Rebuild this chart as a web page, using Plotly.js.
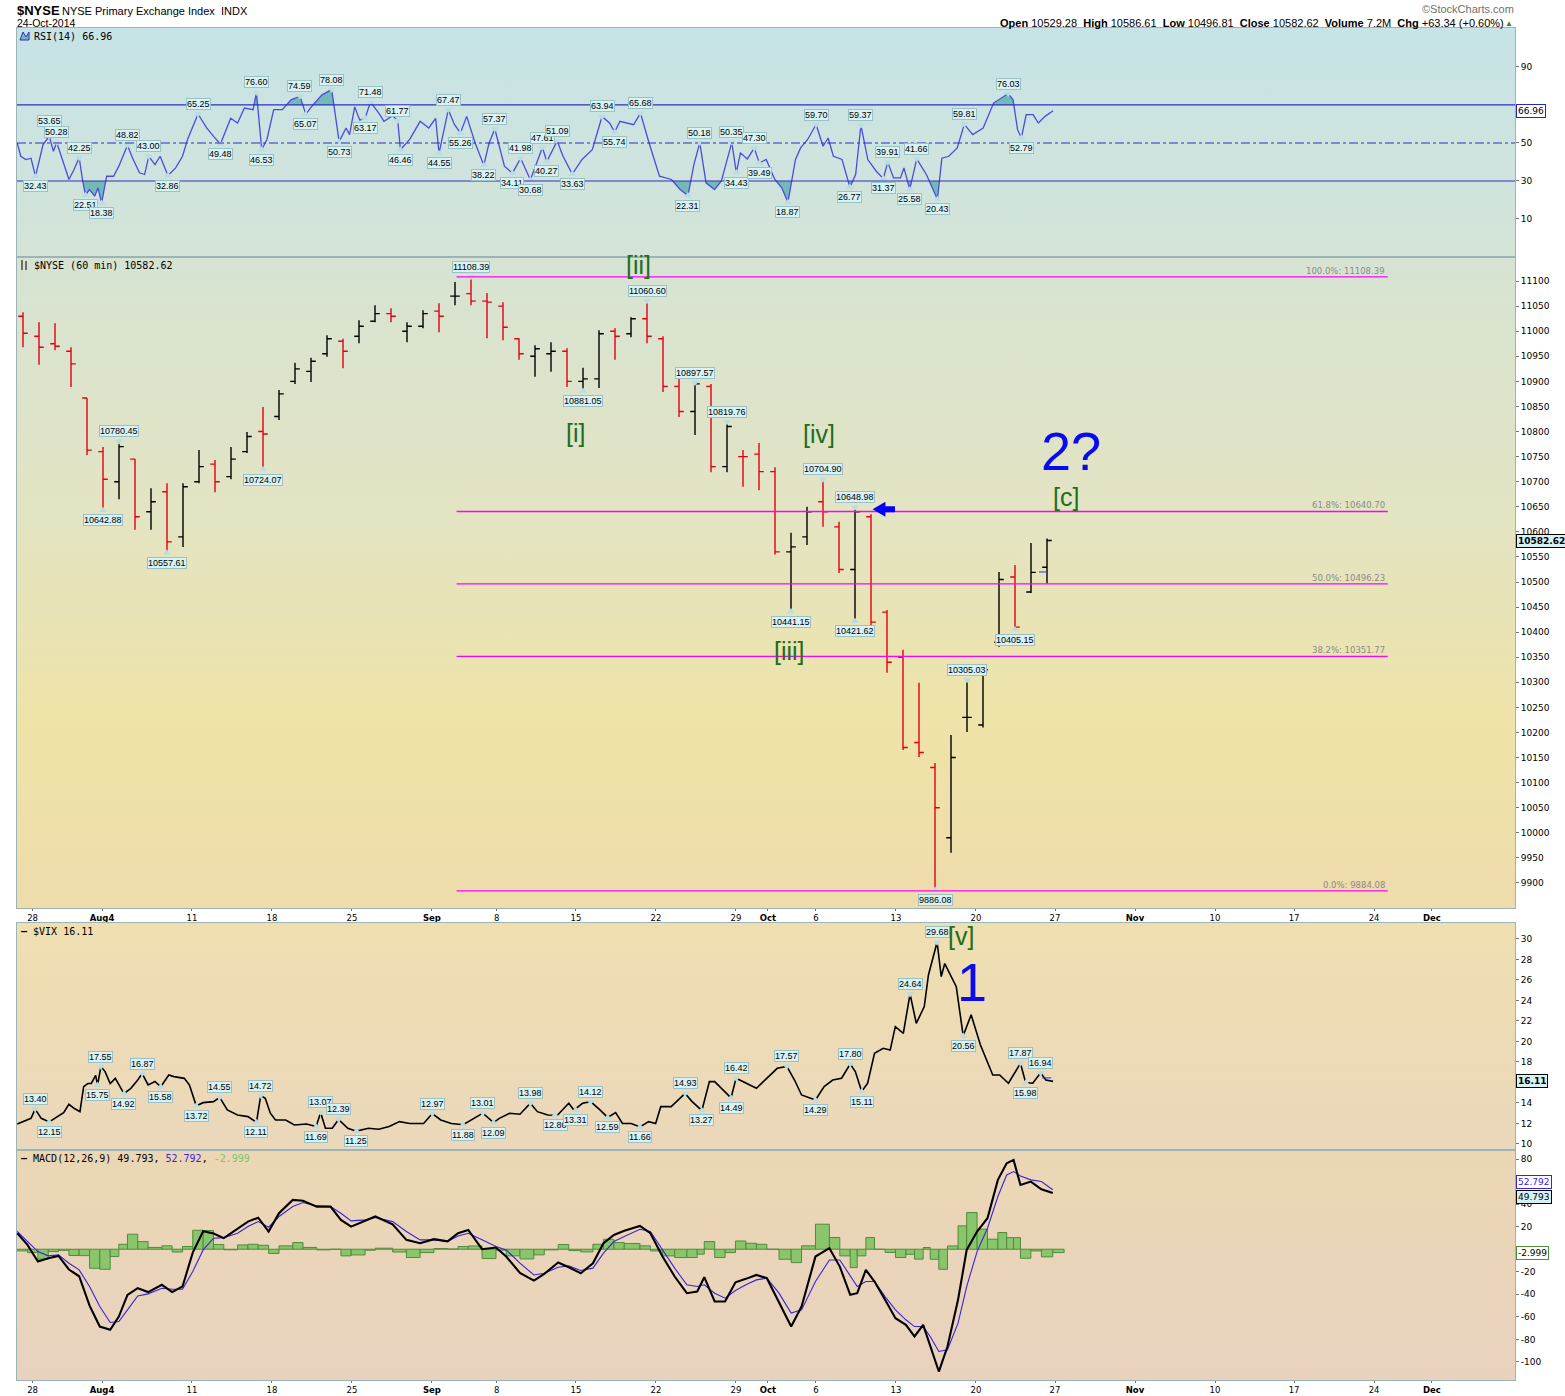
<!DOCTYPE html>
<html><head><meta charset="utf-8">
<script src="https://cdn.plot.ly/plotly-3.0.1.min.js"></script>
<style>
body{margin:0;background:#fff;}
#wrap{position:relative;width:1565px;height:1396px;overflow:hidden;}
.panelbg{position:absolute;left:17px;width:1498px;}
#chart{position:absolute;left:0;top:0;width:1565px;height:1396px;}
</style></head><body>
<div id="wrap">
<div class="panelbg" style="top:28px;height:229px;background:linear-gradient(#c6e3e7,#d4e4d7);"></div>
<div class="panelbg" style="top:257px;height:651px;background:linear-gradient(#d6e3d3 0%,#e3e4c2 40%,#efe3a8 72%,#eedcab 100%);"></div>
<div class="panelbg" style="top:923px;height:227px;background:linear-gradient(#efdfb0,#ebd7bb);"></div>
<div class="panelbg" style="top:1150px;height:230px;background:linear-gradient(#ecd7b4,#e8d2bf);"></div>
<div id="chart"></div>
</div>
<script>
// ---------------- DATA ----------------
// x positions are in trading-day units (0 = Mon 28-Jul-2014, 1 day = 1 unit)
const priceDates = ['Jul25','Jul28','Jul29','Jul30','Jul31','Aug1','Aug4','Aug5','Aug6','Aug7','Aug8','Aug11','Aug12','Aug13','Aug14','Aug15','Aug18','Aug19','Aug20','Aug21','Aug22','Aug25','Aug26','Aug27','Aug28','Aug29','Sep2','Sep3','Sep4','Sep5','Sep8','Sep9','Sep10','Sep11','Sep12','Sep15','Sep16','Sep17','Sep18','Sep19','Sep22','Sep23','Sep24','Sep25','Sep26','Sep29','Sep30','Oct1','Oct2','Oct3','Oct6','Oct7','Oct8','Oct9','Oct10','Oct13','Oct14','Oct15','Oct16','Oct17','Oct20','Oct21','Oct22','Oct23','Oct24'];
const priceOpen  = [11030,10990,10975,10960,10867,10760,10700,10745,10640,10680,10590,10700,10735,10710,10760,10800,10830,10900,10920,10955,10980,10990,11020,11035,11000,11010,11040,11070,11075,11060,11050,10985,10950,10955,10960,10900,10905,11000,10995,11025,10985,10890,10840,10890,10730,10750,10755,10720,10560,10590,10660,10610,10525,10630,10440,10350,10180,10130,9990,10230,10215,10380,10510,10480,10529.28];
const priceHigh  = [11038,11018,11016,10968,10867,10769,10780.45,10745,10687,10697,10697,10763,10743,10769,10799,10849,10883,10937,10947,10992,10985,11022,11052,11046,11018,11042,11056,11098,11108.39,11076,11058,10986,10972,10978,10966,10927,11002,11006,11028,11060.60,10990,10909,10897.57,10895,10819.76,10763,10777,10729,10598,10650,10704.90,10620,10648.98,10635,10444,10365,10299,10139,10195,10305.03,10331,10520,10534,10578,10586.61];
const priceLow   = [10968,10933,10962,10889,10753,10642.88,10665,10604,10604,10557.61,10570,10697,10679,10705,10757,10724.07,10823,10895,10899,10949,10926,10976,11018,11018,10978,11006,10998,11052,11052,10986,10982,10943,10909,10919,10889,10881.05,10887,10943,10988,10976,10879,10829,10793,10719,10719,10690,10683,10555,10441.15,10574,10610,10518,10421.62,10410,10319,10165,10151,9886.08,9960,10201,10210,10371,10405.15,10478,10496.81];
const priceClose = [10996,10968,10970,10935,10763,10705,10770,10630,10660,10580,10690,10730,10700,10745,10790,10795,10875,10925,10940,10985,10960,11010,11035,11030,11010,11035,11030,11070,11060,11058,11008,10955,10965,10960,10900,10905,10995,10990,11025,10990,10890,10840,10895,10730,10810,10750,10720,10560,10570,10640,10640,10525,10640,10420,10340,10170,10160,10050,10150,10230,10325,10505,10410,10519.28,10582.62];
const priceVolume = '7.2M';

const priceLblT = [27.5,38.5,34.5,41.5,43.5,5.5,4.5,8.5,14.5,49.5,51.5,47.5,51.5,58.5,61.5,56.5];
const priceLblV = [11108.39,11060.60,10881.05,10897.57,10819.76,10780.45,10642.88,10557.61,10724.07,10704.90,10648.98,10441.15,10421.62,10305.03,10405.15,9886.08];
const priceLblS = [1,1,-1,1,1,1,-1,-1,-1,1,1,-1,-1,1,-1,-1];

const fibPct = ['100.0%','61.8%','50.0%','38.2%','0.0%'];
const fibVal = [11108.39,10640.70,10496.23,10351.77,9884.08];

const rsiT = [-0.86,-0.64,-0.32,0,0.28,0.54,0.75,1.14,1.4,1.61,1.94,2.37,2.69,3.01,3.23,3.4,3.66,3.98,4.19,4.41,4.73,5.16,5.49,6.03,6.35,6.78,7.1,7.36,7.75,8.07,8.56,9.04,9.47,9.79,10.44,10.98,11.41,11.84,12.48,12.91,13.34,13.88,14.09,14.42,14.74,15.17,15.71,16.25,16.81,17.18,17.54,18.19,18.79,19.26,19.69,19.91,20.23,20.55,20.88,21.22,21.74,22.06,22.6,22.92,23.09,23.68,24.32,24.86,25.29,25.5,26.08,26.47,26.84,27.23,27.76,28.3,28.63,28.99,29.59,30.09,30.6,31.21,31.53,31.96,32.24,32.89,33.25,33.83,34.44,35.08,35.69,36.16,36.48,36.81,37.66,38.09,38.63,39.28,40.03,40.57,41.06,41.43,41.8,42.19,42.72,43.15,43.8,44.08,44.34,44.77,45.2,45.52,45.95,46.49,46.92,47.31,47.78,48.1,48.53,49.07,49.5,49.82,50.15,50.69,51.18,51.54,51.87,52.3,52.84,53.27,53.55,53.91,54.34,54.56,54.92,55.36,55.96,56.65,56.93,57.36,57.89,58.33,58.86,59.51,60.16,61.08,61.38,61.66,61.9,62.2,62.63,62.96,63.38,63.88];
const rsiV = [50,43,41.3,42,32.43,41,49,53.65,45.6,50.28,42,30.8,36,42.25,30,22.51,25.5,22,26.4,18.38,32.5,32.5,37.8,48.82,42,34.3,33.4,43.0,38.6,43,32.86,36.9,43,52,65.25,57.9,53.5,49.48,63,60.5,68.4,67.5,76.6,46.53,51.7,67.5,67.5,72.7,74.59,65.07,69.2,75.3,78.08,50.73,57.9,54.4,69,62,63.17,71.48,65.7,61.4,64.3,61.77,46.46,52,61.4,57.9,63,44.55,67.47,59.6,55.26,64,50,38.22,50,57.37,37.8,34.11,41.98,30.68,37.8,47.61,40.27,51.09,43,33.63,41.3,46.5,63.94,60.5,55.74,61.4,59.6,65.68,50,32.5,30.8,25.5,22.31,38.6,50.18,29,25.5,30,50.35,34.43,44.8,41.6,47.3,39.49,41.3,30.8,26.4,18.87,41.3,47.4,51.7,59.7,48.3,52.6,43,41.3,26.77,33.4,59.37,41.3,35,31.37,39.91,31.6,31.6,36.9,25.58,41.66,33.4,20.43,42,43,47.4,59.81,54.4,57.9,71,76.03,72.7,57,52.79,64.9,64.9,60.5,64,66.96];
const rsiLblT = [0.28,1.14,1.61,3.01,3.4,4.41,6.03,7.36,8.56,10.44,11.84,14.09,14.42,16.81,17.18,18.79,19.26,20.88,21.22,22.92,23.09,25.5,26.08,26.84,28.3,28.99,30.09,30.6,31.21,31.96,32.24,32.89,33.83,35.69,36.48,38.09,41.06,41.8,43.8,44.08,45.2,45.52,47.31,49.07,51.18,51.87,53.27,53.55,54.92,55.36,56.65,58.33,61.08,61.9];
const rsiLblV = [32.43,53.65,50.28,42.25,22.51,18.38,48.82,43.00,32.86,65.25,49.48,76.60,46.53,74.59,65.07,78.08,50.73,63.17,71.48,61.77,46.46,44.55,67.47,55.26,38.22,57.37,34.11,41.98,30.68,47.61,40.27,51.09,33.63,63.94,55.74,65.68,22.31,50.18,50.35,34.43,47.30,39.49,18.87,59.70,26.77,59.37,31.37,39.91,25.58,41.66,20.43,59.81,76.03,52.79];
const rsiLblS = [-1,2,1,1,-1,-1,1,1,-1,1,-1,1,-1,1,-1,1,-1,-1,1,1,-1,-1,1,-1,-1,1,-1,1,-1,1,-1,1,-1,1,-1,1,-1,1,1,-1,1,-1,-1,1,-1,1,-1,1,-1,1,-1,1,1,-1];

const vixT = [-0.86,-0.32,0,0.26,0.64,1.14,1.61,2.04,2.37,2.69,3.06,3.29,3.55,3.77,4.04,4.16,4.37,4.63,4.95,5.27,5.81,6.24,6.67,6.95,7.32,7.75,8.11,8.61,8.93,9.58,9.9,10.33,10.76,11.41,11.79,12.27,12.91,13.56,14.09,14.36,14.64,14.96,15.28,15.92,16.46,17.22,17.82,18.1,18.4,18.83,19.22,19.8,20.34,21.09,21.74,22.38,23.03,23.68,24.54,25.08,25.61,26.27,27.01,27.55,28.24,28.91,29.27,29.91,30.56,31.21,31.65,32.3,32.9,33.61,33.93,34.47,34.98,35.56,36.04,36.54,36.97,37.51,38.06,38.6,39.04,39.36,40.01,40.88,41.32,41.93,42.4,42.73,43.16,43.75,44.07,44.68,45.34,45.77,46.21,46.64,47.24,47.72,48.16,49.03,49.57,50.11,50.66,51.2,51.52,51.92,52.29,52.72,53.26,53.7,54.02,54.52,54.94,55.33,55.83,56.09,56.63,56.89,57.11,57.5,57.83,58.26,58.76,59.34,60.11,60.54,61.09,61.84,62.17,62.61,63.1,63.43,63.88];
const vixV = [11.95,12.34,12.5,13.40,12.5,12.15,12.67,13.06,13.87,13.48,13.15,15.59,15.9,15.9,16.7,15.75,17.55,17.06,15.9,16.4,14.92,15.43,16.24,16.87,15.76,16.1,15.58,16.73,16.57,16.4,15.76,13.72,14.03,14.13,14.55,13.32,12.83,12.67,12.11,14.72,14.46,13,12.34,12.34,11.85,11.95,11.69,13.07,11.53,11.53,12.39,11.53,11.25,11.53,11.43,11.7,12.18,12,12,12.97,12.34,12,11.88,12.34,13.01,12.09,12.5,13,12.9,13.98,13.15,12.83,12.80,13.97,13.31,13.97,14.12,13.32,12.59,13.06,12,12,11.66,12.18,12,13.64,13.64,14.93,14.13,13.27,16.08,16.08,15.43,14.49,16.42,15.92,15.43,16.08,16.73,17.38,17.57,16.24,14.78,14.29,15.59,16.24,16.41,17.80,17.06,15.11,15.92,18.85,19.33,19.17,21.45,20.8,24.64,21.77,23.4,26.49,29.68,26.33,27.6,26.33,25.35,20.56,22.6,19.66,16.73,16.73,15.92,17.87,15.98,15.92,16.94,16.24,16.11];
const vixLblT = [0.26,1.14,4.16,4.37,5.81,6.95,8.11,10.33,11.79,14.09,14.36,17.82,18.1,19.22,20.34,25.08,27.01,28.24,28.91,31.21,32.75,34.05,34.98,36.04,38.06,40.88,41.93,43.75,44.07,47.24,49.03,51.2,51.92,54.94,56.63,58.26,61.84,62.17,63.1];
const vixLblV = [13.40,12.15,15.75,17.55,14.92,16.87,15.58,13.72,14.55,12.11,14.72,11.69,13.07,12.39,11.25,12.97,11.88,13.01,12.09,13.98,12.80,13.31,14.12,12.59,11.66,14.93,13.27,14.49,16.42,17.57,14.29,17.80,15.11,24.64,29.68,20.56,17.87,15.98,16.94];
const vixLblS = [1,-1,-1,1,-1,1,-1,-1,1,-1,1,-1,1,1,-1,1,-1,1,-1,1,-1,-1,1,-1,-1,1,-1,-1,1,1,-1,1,-1,1,1,-1,1,-1,1];

const macdT = [-0.86,-0.22,0.43,1.08,1.72,2.37,3.01,3.66,4.3,4.95,5.49,6.03,6.67,7.32,8.18,8.82,9.47,10.11,10.76,11.41,12.05,12.91,13.56,14.2,14.85,15.5,16.36,17,17.86,18.72,19.37,20.01,20.88,21.52,22.6,23.46,24.32,25.18,26.04,26.69,27.33,28.19,29.06,29.7,30.56,31.43,32.08,32.95,33.61,34.36,35.12,35.78,36.43,37.08,38.06,38.71,39.47,40.23,40.99,41.64,42.08,42.73,43.38,44.03,44.68,45.34,45.99,46.75,47.51,48.16,49.03,49.9,50.55,51.2,51.64,52.18,52.72,53.38,54.03,54.68,55.22,55.76,56.2,56.74,57.28,57.94,58.48,59.13,59.78,60.43,60.98,61.41,61.84,62.49,63.15,63.86];
const macdV = [14.2,3.8,-10.9,-8,-6,-18,-24,-50,-68.6,-71.5,-59.7,-40.5,-34.6,-38,-31.6,-38,-33.1,-3,16,14,9.8,18,24.5,28,15.7,32,43.7,43,37.8,37.8,26,20,25.1,29,22,8.3,5.3,8.9,7,14.2,17.1,0,1.5,-6.5,-21,-27.8,-21.9,-11.8,-16,-21.3,-12.4,5.3,12.7,16.3,20.7,14.2,-6.5,-24.2,-39,-37.5,-24.8,-46.4,-46.4,-29.3,-26.3,-22.8,-25.7,-47.9,-68.6,-50.8,-6.5,0.9,-15.4,-40.5,-39,-18.3,-28.7,-44.9,-61.2,-67.1,-77.4,-67.1,-86.3,-108.5,-86.3,-44.9,-0.6,15.7,27.5,61.5,76.2,79.2,57,60,53.2,49.793];
const signalV = [15.7,6.8,-2.1,-5.9,-5,-12.4,-18.3,-33.1,-50.8,-65,-64.1,-53.8,-41.4,-39.6,-34.6,-35.5,-35.5,-19.8,-0.6,9.8,10.3,14.2,20.1,24.5,19.5,29,37.8,41.4,38.4,37.8,31.9,25.1,26,28.1,24.5,15.7,8.3,8.3,6.8,11.8,14.2,8.3,2.4,-0.6,-12.4,-22.8,-21.3,-16,-14.8,-18.9,-16.8,-3.5,6.8,11.2,17.7,15.7,-0.6,-16.8,-31.6,-33.1,-31.6,-39,-43.4,-36.6,-31.6,-27.2,-25.7,-39,-56.7,-53.8,-28.7,-9.5,-9.5,-24.2,-33.1,-28.7,-28.7,-42,-53.8,-62.6,-68.6,-68.6,-77.4,-90.7,-89.2,-65.6,-33.1,-2.1,18.6,46.7,65.9,68.9,65,61.5,60,52.792];

const xTickPos  = [0.1,4.44,10.06,15.06,20.06,25.06,29.1,34.06,39.06,44.06,46.06,49.06,54.06,59.06,64,69,74,78.94,83.94,87.56];
const xTickText = ['28','<b>Aug4</b>','11','18','25','<b>Sep</b>','8','15','22','29','<b>Oct</b>','6','13','20','27','<b>Nov</b>','10','17','24','<b>Dec</b>'];

const waveLbl = [
  {t:'[ii]', x:37.94, y:11132, ax:'y'}, {t:'[i]', x:34.06, y:10797, ax:'y'},
  {t:'[iv]', x:49.25, y:10795, ax:'y'}, {t:'[iii]', x:47.38, y:10363, ax:'y'},
  {t:'[c]', x:64.69, y:10669, ax:'y'}, {t:'[v]', x:58.1, y:30.3, ax:'y3'}
];
const bigLbl = [{t:'2?', x:65.0, y:10762, ax:'y'}, {t:'1', x:58.81, y:25.8, ax:'y3'}];

// ---------------- GEOMETRY ----------------
const T0 = 28, B0 = 1380, PH = B0 - T0;
const yd = (top, bot) => [(B0 - bot) / PH, (B0 - top) / PH];
const py = ypx => (B0 - ypx) / PH;
const px = xpx => (xpx - 17) / 1498;
const XR = [-0.875, 92.75];
const LBLFONT = 'Liberation Sans, Arial, sans-serif';
const AXFONT = {family: 'DejaVu Sans, Verdana, sans-serif', size: 9, color: '#000'};
const MONO = 'DejaVu Sans Mono, monospace';
const FRAME = '#9cb4b6';
const NOTCH = '#b9dde0';

function clip(xs, ys, thr, upper) {
  const X = [], Y = [];
  for (let i = 0; i < xs.length; i++) {
    if (i > 0) {
      const a = ys[i-1] - thr, b = ys[i] - thr;
      if (a * b < 0) { const t = a / (a - b); X.push(xs[i-1] + t * (xs[i] - xs[i-1])); Y.push(thr); }
    }
    X.push(xs[i]); Y.push(upper ? Math.max(ys[i], thr) : Math.min(ys[i], thr));
  }
  return {X, Y};
}

const traces = [];
const RSIFILL = '#72b9b7';
[[70, true], [30, false]].forEach(([thr, up]) => {
  const c = clip(rsiT, rsiV, thr, up);
  traces.push({x: c.X, y: c.X.map(() => thr), xaxis: 'x2', yaxis: 'y2', mode: 'lines', line: {width: 0}, hoverinfo: 'skip', showlegend: false});
  traces.push({x: c.X, y: c.Y, xaxis: 'x2', yaxis: 'y2', mode: 'lines', line: {width: 0}, fill: 'tonexty', fillcolor: RSIFILL, hoverinfo: 'skip', showlegend: false});
});
traces.push({x: rsiT, y: rsiV, xaxis: 'x2', yaxis: 'y2', mode: 'lines', line: {color: '#4b4be0', width: 1.3}, hoverinfo: 'skip', showlegend: false});

traces.push({type: 'ohlc', x: priceDates.map((d, i) => i - 1 + 0.5), open: priceOpen, high: priceHigh, low: priceLow, close: priceClose,
  xaxis: 'x', yaxis: 'y', tickwidth: 0.3, increasing: {line: {color: '#000000', width: 1.4}}, decreasing: {line: {color: '#e3000f', width: 1.4}},
  hoverinfo: 'skip', showlegend: false});

traces.push({x: vixT, y: vixV, xaxis: 'x3', yaxis: 'y3', mode: 'lines', line: {color: '#000', width: 1.6}, hoverinfo: 'skip', showlegend: false});

const histV = macdV.map((m, i) => m - signalV[i]);
const histW = macdT.map((t, i) => (i < macdT.length - 1 ? macdT[i+1] - t : t - macdT[i-1]));
traces.push({type: 'bar', x: macdT.map((t, i) => t + histW[i] / 2), y: histV, width: histW, xaxis: 'x4', yaxis: 'y4',
  marker: {color: '#8ac56b', line: {color: '#4f8c3c', width: 1}}, hoverinfo: 'skip', showlegend: false});
traces.push({x: macdT, y: signalV, xaxis: 'x4', yaxis: 'y4', mode: 'lines', line: {color: '#3a22dc', width: 1.1}, hoverinfo: 'skip', showlegend: false});
traces.push({x: macdT, y: macdV, xaxis: 'x4', yaxis: 'y4', mode: 'lines', line: {color: '#000', width: 2.1}, hoverinfo: 'skip', showlegend: false});

// label notches (small triangles pointing at the labelled value)
function notches(ts, vs, ss, xa, ya) {
  traces.push({x: ts, y: vs, xaxis: xa, yaxis: ya, mode: 'markers', hoverinfo: 'skip', showlegend: false,
    marker: {size: 7, color: NOTCH, line: {width: 0}, symbol: ss.map(s => s > 0 ? 'triangle-down' : 'triangle-up')}});
}

// ---------------- AXES ----------------
function xax(anchor, labels) {
  return {anchor: anchor, range: XR, showgrid: false, zeroline: false, showline: true, mirror: true, linecolor: FRAME, linewidth: 1,
    tickmode: 'array', tickvals: xTickPos, ticktext: labels ? xTickText : xTickPos.map(() => ''), ticks: 'outside', ticklen: labels ? 2 : 0,
    tickcolor: '#777', tickfont: labels ? {family: AXFONT.family, size: 8.5, color: '#000'} : AXFONT, fixedrange: true};
}
function yax(anchor, dom, range, vals, hide) {
  return {anchor: anchor, domain: dom, range: range, side: 'right', showgrid: false, zeroline: false, showline: true, mirror: true,
    linecolor: FRAME, linewidth: 1, tickmode: 'array', tickvals: vals, ticktext: vals.map(v => (hide || []).includes(v) ? '' : String(v)),
    ticks: 'outside', ticklen: 3, tickcolor: '#777', tickfont: AXFONT, fixedrange: true};
}
const range = (a, b, s) => { const r = []; for (let v = a; v <= b + 1e-9; v += s) r.push(Math.round(v * 100) / 100); return r; };

const layout = {
  width: 1565, height: 1396, margin: {l: 17, r: 50, t: 28, b: 16},
  paper_bgcolor: 'rgba(0,0,0,0)', plot_bgcolor: 'rgba(0,0,0,0)', showlegend: false, bargap: 0,
  xaxis: Object.assign(xax('y', true), {rangeslider: {visible: false}}),
  xaxis2: xax('y2', false), xaxis3: xax('y3', false), xaxis4: xax('y4', true),
  yaxis2: yax('x2', yd(28, 257), [-10, 110.5], [10, 30, 50, 70, 90], [70]),
  yaxis:  yax('x', yd(257, 908), [9850, 11148], range(9900, 11100, 50)),
  yaxis3: yax('x3', yd(923, 1150), [9.41, 31.56], range(10, 30, 2), [16]),
  yaxis4: yax('x4', yd(1150, 1380), [-116, 88], range(-100, 80, 20), [0, 60]),
  shapes: [], annotations: []
};

// RSI reference lines
[[70, 'solid'], [30, 'solid'], [50, 'dashdot']].forEach(([v, d]) => layout.shapes.push({type: 'line', xref: 'x2 domain', x0: 0, x1: 1, yref: 'y2', y0: v, y1: v, line: {color: '#2f2fc0', width: 1.2, dash: d}}));
// Fibonacci levels
fibVal.forEach((v, i) => {
  layout.shapes.push({type: 'line', xref: 'x', x0: 26.6, x1: 84.8, yref: 'y', y0: v, y1: v, line: {color: '#ff00ff', width: 1.4}});
  layout.annotations.push({xref: 'x', x: 84.75, yref: 'y', y: v, xanchor: 'right', yanchor: 'bottom', yshift: -1, showarrow: false,
    text: fibPct[i] + ': ' + v.toFixed(2), font: {family: 'DejaVu Sans, Verdana, sans-serif', size: 8.5, color: '#8a8a8a'}});
});
// short blue dashed markers at the last bar
layout.shapes.push({type: 'line', xref: 'x', x0: 63.0, x1: 64.0, yref: 'y', y0: 10520, y1: 10520, line: {color: '#2030ff', width: 1, dash: 'dash'}});
layout.shapes.push({type: 'line', xref: 'x3', x0: 63.2, x1: 64.0, yref: 'y3', y0: 16.44, y1: 16.44, line: {color: '#2030ff', width: 1, dash: 'dash'}});

function boxLabel(x, y, v, side, xa, ya, dec) {
  return {xref: xa, yref: ya, x: x, y: y, text: v.toFixed(dec), showarrow: false, xanchor: 'center',
    yanchor: side > 0 ? 'bottom' : 'top', yshift: side > 1 ? 9 : (side > 0 ? 4 : -4),
    font: {family: LBLFONT, size: 9, color: '#000'}, bgcolor: '#d9f2f4', bordercolor: '#9cc1c5', borderwidth: 1, borderpad: 0};
}
notches(rsiLblT, rsiLblV, rsiLblS, 'x2', 'y2');
notches(priceLblT, priceLblV, priceLblS, 'x', 'y');
notches(vixLblT, vixLblV, vixLblS, 'x3', 'y3');
rsiLblT.forEach((t, i) => layout.annotations.push(boxLabel(t, rsiLblV[i], rsiLblV[i], rsiLblS[i], 'x2', 'y2', 2)));
priceLblT.forEach((t, i) => layout.annotations.push(boxLabel(t, priceLblV[i], priceLblV[i], priceLblS[i], 'x', 'y', 2)));
vixLblT.forEach((t, i) => layout.annotations.push(boxLabel(t, vixLblV[i], vixLblV[i], vixLblS[i], 'x3', 'y3', 2)));

// Elliott wave labels
waveLbl.forEach(w => layout.annotations.push({xref: 'x', yref: w.ax, x: w.x, y: w.y, text: w.t, showarrow: false,
  font: {family: LBLFONT, size: 25, color: '#1d6e1d'}}));
bigLbl.forEach(w => layout.annotations.push({xref: 'x', yref: w.ax, x: w.x, y: w.y, text: w.t, showarrow: false,
  font: {family: LBLFONT, size: 54, color: '#0a0af0'}}));
// blue arrow pointing to 61.8% retracement test
layout.shapes.push({type: 'path', xref: 'x', yref: 'y',
  path: 'M 52.6 10645 L 53.4 10660 L 53.4 10651 L 54.0 10651 L 54.0 10639 L 53.4 10639 L 53.4 10630 Z',
  fillcolor: '#0000ff', line: {width: 0}});

// current-value tags on the right axis
const n = priceClose.length;
const lastClose = priceClose[n - 1], prevClose = priceClose[n - 2];
const chg = lastClose - prevClose, chgPct = chg / prevClose * 100;
const lastRsi = rsiV[rsiV.length - 1], lastVix = vixV[vixV.length - 1];
const lastMacd = macdV[macdV.length - 1], lastSig = signalV[signalV.length - 1], lastHist = lastMacd - lastSig;
function tag(ya, y, txt, border, bg, color, yshift) {
  return {xref: 'paper', x: 1, xanchor: 'left', xshift: 1, yref: ya, y: y, yshift: yshift || 0, text: txt, showarrow: false,
    font: {family: 'DejaVu Sans, Verdana, sans-serif', size: 9, color: color}, bgcolor: bg, bordercolor: border, borderwidth: 1, borderpad: 1};
}
layout.annotations.push(tag('y2', lastRsi, lastRsi.toFixed(2), '#2525c8', '#ffffff', '#000'));
layout.annotations.push(tag('y', lastClose, '<b>' + lastClose.toFixed(2) + '</b>', '#000', '#d5f1f4', '#000'));
layout.annotations.push(tag('y3', lastVix, '<b>' + lastVix.toFixed(2) + '</b>', '#000', '#d5f1f4', '#000'));
layout.annotations.push(tag('y4', lastSig, lastSig.toFixed(3), '#3a22dc', '#ffffff', '#3a22dc', 8));
layout.annotations.push(tag('y4', lastMacd, lastMacd.toFixed(3), '#000', '#d5f1f4', '#000', -4));
layout.annotations.push(tag('y4', lastHist, lastHist.toFixed(3), '#4f8c3c', '#ffffff', '#000'));

// header texts
const hdr = (x, y, txt, size, anchor, color, fam) => ({xref: 'paper', yref: 'paper', x: px(x), y: py(y), xanchor: anchor, yanchor: 'middle',
  text: txt, showarrow: false, font: {family: fam || LBLFONT, size: size, color: color || '#000'}});
layout.annotations.push(hdr(15, 10, '<b>$NYSE</b>', 13, 'left'));
layout.annotations.push(hdr(60, 11, 'NYSE Primary Exchange Index  INDX', 11, 'left'));
layout.annotations.push(hdr(15, 23, '24-Oct-2014', 10.5, 'left'));
layout.annotations.push(hdr(1516, 9, '©StockCharts.com', 11, 'right', '#707070'));
layout.annotations.push(hdr(1506, 23,
  '<b>Open</b> ' + priceOpen[n-1].toFixed(2) + '  <b>High</b> ' + priceHigh[n-1].toFixed(2) + '  <b>Low</b> ' + priceLow[n-1].toFixed(2) +
  '  <b>Close</b> ' + lastClose.toFixed(2) + '  <b>Volume</b> ' + priceVolume + '  <b>Chg</b> ' + (chg >= 0 ? '+' : '') + chg.toFixed(2) +
  ' (' + (chgPct >= 0 ? '+' : '') + chgPct.toFixed(2) + '%)', 11, 'right'));
layout.annotations.push(hdr(1515, 23, '▲', 8, 'right', '#2e8b2e'));

// panel legends
layout.annotations.push(hdr(32, 36, 'RSI(14) ' + lastRsi.toFixed(2), 10, 'left', '#000', MONO));
layout.annotations.push(hdr(32, 265, '$NYSE (60 min) ' + lastClose.toFixed(2), 10, 'left', '#000', MONO));
layout.annotations.push(hdr(19, 931, '<b>—</b> $VIX ' + lastVix.toFixed(2), 10, 'left', '#000', MONO));
layout.annotations.push(hdr(19, 1158, '<b>—</b> MACD(12,26,9) ' + lastMacd.toFixed(3) + ', <span style="color:#3a22dc">' + lastSig.toFixed(3) +
  '</span>, <span style="color:#7cc56e">' + lastHist.toFixed(3) + '</span>', 10, 'left', '#000', MONO));
// small panel icons
layout.shapes.push({type: 'path', xref: 'paper', yref: 'paper', path: `M ${px(20)} ${py(40)} L ${px(23)} ${py(32)} L ${px(26)} ${py(37)} L ${px(29)} ${py(32)} L ${px(29)} ${py(40)} Z`, fillcolor: RSIFILL, line: {color: '#2f2fc0', width: 1}});
layout.shapes.push({type: 'line', xref: 'paper', yref: 'paper', x0: px(22), x1: px(22), y0: py(260), y1: py(270), line: {color: '#000', width: 1}});
layout.shapes.push({type: 'line', xref: 'paper', yref: 'paper', x0: px(26), x1: px(26), y0: py(261), y1: py(270), line: {color: '#000', width: 1}});

Plotly.newPlot('chart', traces, layout, {displayModeBar: false, staticPlot: true});
</script>
</body></html>
